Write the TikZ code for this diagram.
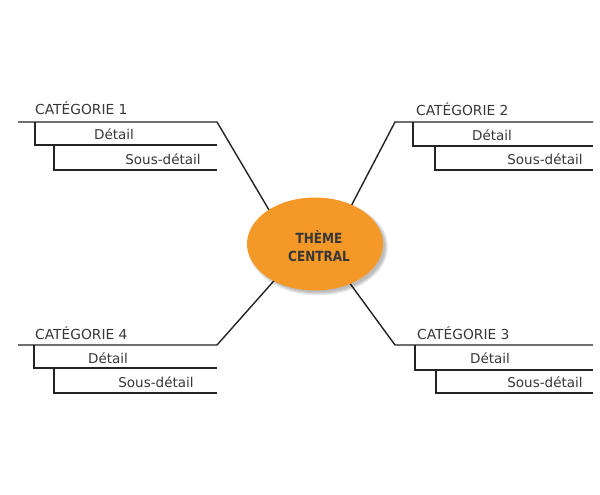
\documentclass[tikz,border=0pt]{standalone}
\usepackage{fontspec}
\setmainfont{DejaVu Sans}
\newfontfamily\themefont{DejaVu Sans}[FakeStretch=0.86]
\usetikzlibrary{shapes.geometric}
\definecolor{lineclr}{RGB}{35,35,35}
\definecolor{txtclr}{RGB}{55,55,55}
\definecolor{orangeclr}{RGB}{244,152,40}
\begin{document}
\begin{tikzpicture}[x=1pt,y=-1pt,
  branch/.style={draw=lineclr,line width=1.4pt,line join=miter},
  cat/.style={anchor=base west,inner sep=0pt,text=txtclr,font=\fontsize{13.8}{15}\selectfont},
  det/.style={anchor=center,inner sep=0pt,text=txtclr,font=\fontsize{13.5}{15}\selectfont},
  theme/.style={ellipse,fill=orangeclr,minimum width=136pt,minimum height=93pt,inner sep=0pt},
  shade/.style={ellipse,fill=black,fill opacity=0.07,inner sep=0pt},
]
\useasboundingbox (0,0) rectangle (600,495);
\fill[white] (0,0) rectangle (600,495);

% connector end points hidden under the ellipse
\coordinate (e1) at (272,215);
\coordinate (e2) at (348,212);
\coordinate (e3) at (346,278);
\coordinate (e4) at (280,274);

% Category 1
\coordinate (c1s) at (18,122);
\coordinate (c1k) at (217,122);
\coordinate (c1v) at (35,122);
\coordinate (c1d) at (35,145);
\coordinate (c1de) at (217,145);
\coordinate (c1w) at (54,145);
\coordinate (c1u) at (54,170);
\coordinate (c1ue) at (217,170);
\draw[branch] (e1) -- (c1k) -- (c1s);
\draw[branch] (c1v) -- (c1d) -- (c1de);
\draw[branch] (c1w) -- (c1u) -- (c1ue);

% Category 2
\coordinate (c2s) at (593,122);
\coordinate (c2k) at (395,122);
\coordinate (c2v) at (413,122);
\coordinate (c2d) at (413,146);
\coordinate (c2de) at (593,146);
\coordinate (c2w) at (435,146);
\coordinate (c2u) at (435,170);
\coordinate (c2ue) at (593,170);
\draw[branch] (e2) -- (c2k) -- (c2s);
\draw[branch] (c2v) -- (c2d) -- (c2de);
\draw[branch] (c2w) -- (c2u) -- (c2ue);

% Category 3
\coordinate (c3s) at (593,345);
\coordinate (c3k) at (395,345);
\coordinate (c3v) at (415,345);
\coordinate (c3d) at (415,370);
\coordinate (c3de) at (593,370);
\coordinate (c3w) at (436,370);
\coordinate (c3u) at (436,393);
\coordinate (c3ue) at (593,393);
\draw[branch] (e3) -- (c3k) -- (c3s);
\draw[branch] (c3v) -- (c3d) -- (c3de);
\draw[branch] (c3w) -- (c3u) -- (c3ue);

% Category 4
\coordinate (c4s) at (18,345);
\coordinate (c4k) at (217,345);
\coordinate (c4v) at (34,345);
\coordinate (c4d) at (34,368);
\coordinate (c4de) at (217,368);
\coordinate (c4w) at (54,368);
\coordinate (c4u) at (54,393);
\coordinate (c4ue) at (217,393);
\draw[branch] (e4) -- (c4k) -- (c4s);
\draw[branch] (c4v) -- (c4d) -- (c4de);
\draw[branch] (c4w) -- (c4u) -- (c4ue);

% soft shadow towards bottom right
\node[shade,minimum width=140pt,minimum height=97pt] (sh1) at (318,247) {};
\node[shade,minimum width=138pt,minimum height=95pt] (sh2) at (318,247) {};
\node[shade,minimum width=136pt,minimum height=93pt] (sh3) at (318,247) {};
\node[shade,minimum width=134pt,minimum height=91pt] (sh4) at (318,247) {};

% central theme
\node[theme] (center) at (315,244) {};
\node[text=txtclr,align=center,font=\themefont\fontsize{14}{18.5}\selectfont\bfseries,inner sep=0pt] (ctext) at (319,246) {THÈME\\CENTRAL};

% labels
\node[cat] (t1) at (35,114) {CATÉGORIE 1};
\node[det] (d1) at (114,134) {Détail};
\node[det] (s1) at (163,159) {Sous-détail};

\node[cat] (t2) at (416,115) {CATÉGORIE 2};
\node[det] (d2) at (492,135) {Détail};
\node[det] (s2) at (545,159) {Sous-détail};

\node[cat] (t3) at (417,339) {CATÉGORIE 3};
\node[det] (d3) at (490,358) {Détail};
\node[det] (s3) at (545,382) {Sous-détail};

\node[cat] (t4) at (35,339) {CATÉGORIE 4};
\node[det] (d4) at (108,358) {Détail};
\node[det] (s4) at (156,382) {Sous-détail};
\end{tikzpicture}
\end{document}
